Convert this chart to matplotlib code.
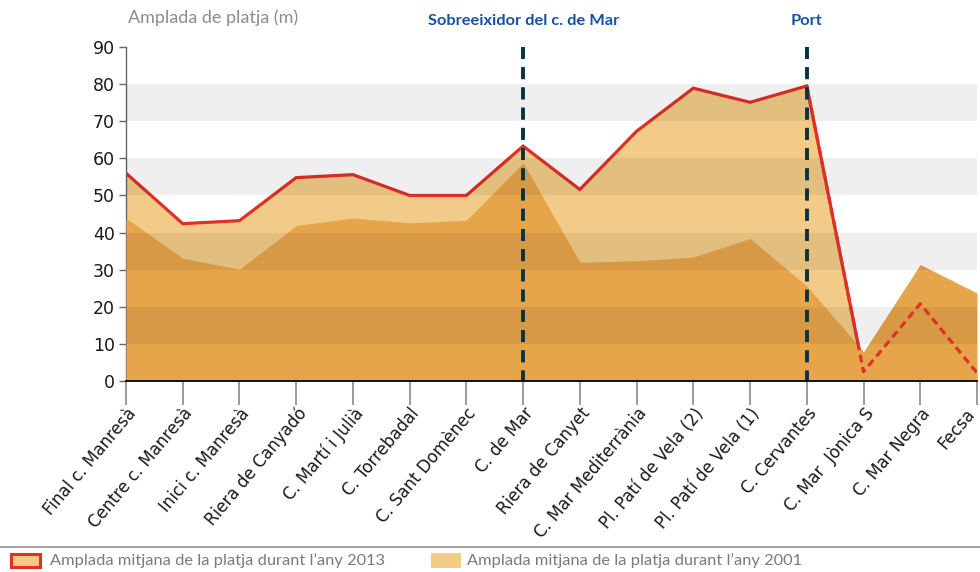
import matplotlib
matplotlib.use("Agg")
import matplotlib.pyplot as plt
from matplotlib.patches import Rectangle
from matplotlib.lines import Line2D

categories = ["Final c. Manresà", "Centre c. Manresà", "Inici c. Manresà", "Riera de Canyadó",
              "C. Martí i Julià", "C. Torrebadal", "C. Sant Domènec", "C. de Mar",
              "Riera de Canyet", "C. Mar Mediterrània", "Pl. Patí de Vela (2)",
              "Pl. Patí de Vela (1)", "C. Cervantes", "C. Mar  Jònica S", "C. Mar Negra", "Fecsa"]
width_2013 = [56.0, 42.4, 43.2, 54.8, 55.6, 50.0, 50.0, 63.3, 51.6, 67.3, 78.9, 75.1, 79.5, 2.5, 20.8, 2.2]
width_2001 = [43.9, 33.1, 30.1, 41.9, 43.9, 42.6, 43.3, 58.8, 32.0, 32.4, 33.4, 38.4, 25.6, 7.9, 31.4, 23.7]
yticks = [0, 10, 20, 30, 40, 50, 60, 70, 80, 90]
markers = {"Sobreeixidor del c. de Mar": 7, "Port": 12}
dashed_from = 12
legend_labels = ["Amplada mitjana de la platja durant l’any 2013",
                 "Amplada mitjana de la platja durant l’any 2001"]
ylabel_text = "Amplada de platja (m)"

LIGHT = "#f2cb88"
DARK = "#e6a44b"
RED = "#e1302a"
BLUE = "#0b4f9e"
TEAL = "#0b3236"

W, H = 980, 572
fig = plt.figure(figsize=(W / 100, H / 100), dpi=100)
ax = fig.add_axes([126 / W, 1 - 381 / H, (977 - 126) / W, (381 - 47) / H])
x = list(range(len(categories)))

ax.fill_between(x, 0, width_2013, color=LIGHT, lw=0, zorder=1)
ax.plot(x, width_2013, color=RED, lw=2.3, zorder=2, solid_joinstyle="miter")
ax.fill_between(x, 0, width_2001, color=DARK, lw=0, zorder=3)
for lo in range(10, 90, 20):
    ax.axhspan(lo, lo + 10, color="black", alpha=0.062, lw=0, zorder=4)
ax.plot(x[dashed_from:], width_2013[dashed_from:], color=RED, lw=2.3,
        dashes=(2.4, 1.5), zorder=5)

for label, idx in markers.items():
    ax.plot([idx, idx], [90, 0], color=BLUE, lw=2.6, dashes=(3.3, 2.3), zorder=6,
            dash_capstyle="butt", clip_on=False)
    dark = ax.plot([idx, idx], [90, 0], color=TEAL, lw=2.6, dashes=(3.3, 2.3), zorder=7,
                   dash_capstyle="butt", clip_on=False)[0]
    clip = Rectangle((idx - 0.5, 0), 1, width_2013[idx], transform=ax.transData)
    dark.set_clip_path(clip)
    ax.text(idx, 95.0, label, ha="center", va="bottom", color="#1553a0", fontsize=11.8,
            fontweight="bold", family="Lato")

ax.set_xlim(0, len(categories) - 1)
ax.set_ylim(0, 90)
ax.set_yticks(yticks)
ax.set_yticklabels([str(v) for v in yticks], fontsize=12.5, color="#1a1a1a")
ax.set_xticks(x)
label_kw = dict(rotation=50, ha="right", va="top", rotation_mode="anchor",
                fontsize=12, color="#1a1a1a")
ax.set_xticklabels(categories[:-1] + [""], **label_kw)
# last label nudged left so it stays inside the figure
ax.annotate(categories[-1], xy=(x[-1], 0), xycoords=("data", "axes fraction"),
            xytext=(-8.5, -17.5), textcoords="offset points", annotation_clip=False,
            **label_kw)
ax.tick_params(axis="x", length=17, width=1.1, color="#808080", pad=0)
ax.tick_params(axis="y", length=5, width=1.0, color="#666666", pad=3)
for s in ["top", "right"]:
    ax.spines[s].set_visible(False)
ax.spines["left"].set_color("#666666")
ax.spines["left"].set_linewidth(1.0)
ax.spines["bottom"].set_color("#111111")
ax.spines["bottom"].set_linewidth(1.4)
ax.spines["bottom"].set_zorder(8)
ax.set_facecolor("white")

fig.text(128 / W, 1 - 18 / H, ylabel_text, ha="left", va="center", color="#8c8c8c",
         fontsize=13, family="Lato")

# legend at bottom
fig.add_artist(Line2D([0, 1], [1 - 547 / H, 1 - 547 / H], transform=fig.transFigure,
                      color="#9a9a9a", lw=1.3))
fig.add_artist(Rectangle((11 / W, 1 - 567 / H), 29 / W, 13 / H, transform=fig.transFigure,
                         facecolor=LIGHT, edgecolor=RED, lw=2.2))
fig.text(50 / W, 1 - 561 / H, legend_labels[0], ha="left", va="center", color="#7a7a7a",
         fontsize=11.8, family="Lato")
fig.add_artist(Rectangle((431 / W, 1 - 568 / H), 30 / W, 15 / H, transform=fig.transFigure,
                         facecolor=LIGHT, edgecolor="none"))
fig.text(467 / W, 1 - 561 / H, legend_labels[1], ha="left", va="center", color="#7a7a7a",
         fontsize=11.8, family="Lato")

fig.savefig("out.png", dpi=100)
